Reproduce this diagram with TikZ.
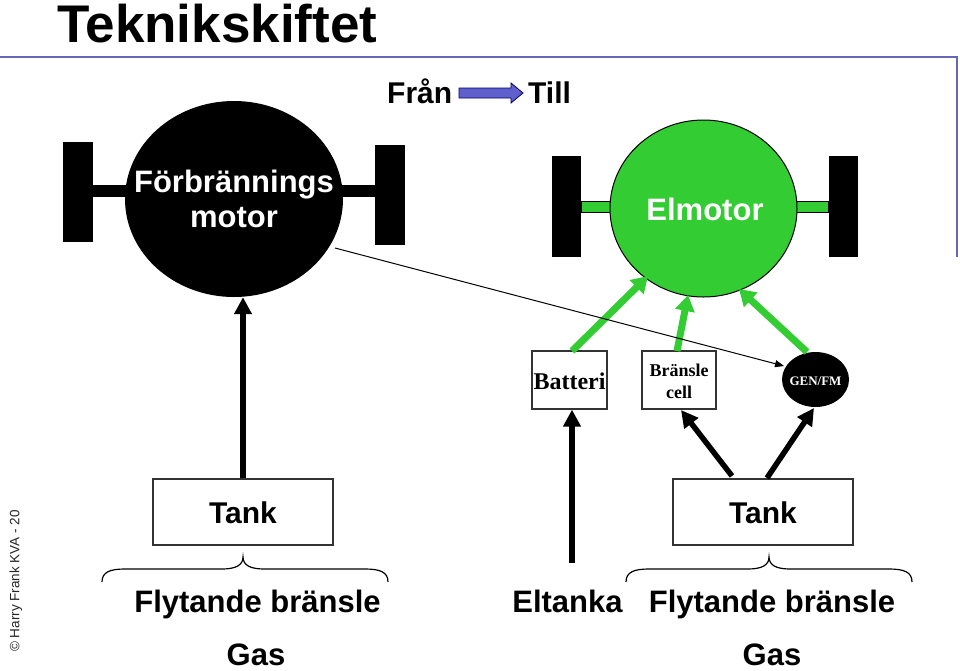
\documentclass[tikz,border=0pt]{standalone}
\usepackage{fontspec}
\setmainfont{Liberation Sans}
\newfontfamily\timesf{Liberation Serif}
\usetikzlibrary{arrows.meta,shapes.geometric}
\definecolor{mgreen}{RGB}{51,204,51}
\definecolor{frameblue}{RGB}{102,102,180}
\definecolor{arrblue}{RGB}{96,96,205}
\tikzset{
  lbl/.style={anchor=base,inner sep=0pt,font=\bfseries\fontsize{31}{36}\selectfont},
  wheel/.style={rectangle,fill=black,inner sep=0pt,minimum width=30,minimum height=100},
  boxnode/.style={rectangle,draw=black!80,line width=1.3,fill=white,inner sep=0pt},
  greenarr/.style={draw=mgreen,line width=7,-{Triangle[length=16pt,width=19pt]}},
  blackarr/.style={draw=black,line width=5.5,-{Triangle[length=17pt,width=17pt]}},
  bracestyle/.style={draw=black,line width=1.2}
}
\begin{document}
\begin{tikzpicture}[x=1pt,y=-1pt]
\useasboundingbox (0,0) rectangle (960,670);
\fill[white] (0,0) rectangle (960,670);
% frame line
\draw[frameblue,line width=2] (0,57) -- (957,57) -- (957,257);
% title
\node[anchor=base west,inner sep=0pt,font=\bfseries\fontsize{53}{60}\selectfont] (title) at (57,42) {Teknikskiftet};
% Från -> Till
\node[anchor=base west,inner sep=0pt,font=\bfseries\fontsize{30}{36}\selectfont] (fran) at (387,103) {Från};
\node[anchor=base west,inner sep=0pt,font=\bfseries\fontsize{30}{36}\selectfont] (till) at (528,103) {Till};
\filldraw[fill=arrblue,draw=black!60!blue,line width=0.8] (459,88) -- (511,88) -- (511,83) -- (523,93) -- (511,103) -- (511,98) -- (459,98) -- cycle;
% left motor
\fill[black] (93,185) rectangle (375,197);
\node[ellipse,fill=black,minimum width=218,minimum height=196,inner sep=0] (motorL) at (234,199) {};
\node[wheel] (wl1) at (78,192) {};
\node[wheel] (wl2) at (390,195) {};
\node[lbl,text=white] (t1) at (234,192) {Förbrännings};
\node[lbl,text=white] (t2) at (234,227) {motor};
% right motor
\filldraw[fill=mgreen,draw=black,line width=0.5] (581,201) rectangle (828,212);
\node[ellipse,fill=mgreen,draw=black,line width=1,minimum width=187,minimum height=177,inner sep=0] (motorR) at (703.5,208.5) {};
\node[wheel,minimum width=29,minimum height=101] (wr1) at (566.5,206.5) {};
\node[wheel,minimum width=29,minimum height=101] (wr2) at (843,206.5) {};
\node[lbl,text=white] (t3) at (705,220) {Elmotor};
% middle boxes
\node[boxnode,minimum width=75,minimum height=58] (batt) at (569.5,380) {};
\node[anchor=base,inner sep=0pt,font=\timesf\bfseries\fontsize{24}{28}\selectfont] (battt) at (569.5,389) {Batteri};
\node[boxnode,minimum width=74,minimum height=58] (fc) at (679,380) {};
\node[anchor=base,inner sep=0pt,font=\timesf\bfseries\fontsize{18}{22}\selectfont] (fct1) at (679,376) {Bränsle};
\node[anchor=base,inner sep=0pt,font=\timesf\bfseries\fontsize{18}{22}\selectfont] (fct2) at (679,398) {cell};
\node[ellipse,fill=black,minimum width=67,minimum height=55,inner sep=0] (gen) at (815.5,379.5) {};
\node[anchor=base,inner sep=0pt,text=white,font=\timesf\bfseries\fontsize{13}{15}\selectfont] (gent) at (815.5,385) {GEN/FM};
% tanks
\node[boxnode,minimum width=180,minimum height=66] (tankL) at (243,512) {};
\node[lbl,font=\bfseries\fontsize{30}{36}\selectfont] (tankLt) at (243,523) {Tank};
\node[boxnode,minimum width=180,minimum height=66] (tankR) at (763,512) {};
\node[lbl,font=\bfseries\fontsize{30}{36}\selectfont] (tankRt) at (763,523) {Tank};
% coordinates for connector ends
\coordinate (gA1) at (572,351);  \coordinate (gA2) at (648,276);
\coordinate (gB1) at (677,351);  \coordinate (gB2) at (688,295);
\coordinate (gC1) at (807,352);  \coordinate (gC2) at (739,289);
\coordinate (thin1) at (335,248); \coordinate (thin2) at (784,366);
\coordinate (elt) at (572,563);
\coordinate (tr1) at (732,476);  \coordinate (tr2) at (681,410);
\coordinate (tr3) at (767,478);  \coordinate (tr4) at (814,408);
% green arrows
\draw[greenarr] (gA1) -- (gA2);
\draw[greenarr] (gB1) -- (gB2);
\draw[greenarr] (gC1) -- (gC2);
% thin line
\draw[line width=1,-{Triangle[length=9pt,width=7pt]}] (thin1) -- (thin2);
% black arrows
\draw[blackarr] (tankL.north) -- (tankL.north |- motorL.south);
\draw[blackarr] (elt) -- (elt |- batt.south);
\draw[blackarr] (tr1) -- (tr2);
\draw[blackarr] (tr3) -- (tr4);
% braces
\draw[bracestyle] (102,582) .. controls (102,572) and (110,569) .. (125,569) -- (222,569) .. controls (236,569) and (243,565) .. (243,557) .. controls (243,565) and (250,569) .. (264,569) -- (365,569) .. controls (380,569) and (388,572) .. (388,582);
\draw[bracestyle] (626,582) .. controls (626,572) and (634,569) .. (649,569) -- (748,569) .. controls (762,569) and (769,565) .. (769,557) .. controls (769,565) and (776,569) .. (790,569) -- (889,569) .. controls (904,569) and (912,572) .. (912,582);
% bottom labels
\node[lbl] (fl1) at (257.5,612) {Flytande bränsle};
\node[lbl] (el) at (567.5,612) {Eltanka};
\node[lbl] (fl2) at (772,612) {Flytande bränsle};
\node[lbl] (gas1) at (256,665) {Gas};
\node[lbl] (gas2) at (772,665) {Gas};
% copyright
\node[rotate=90,inner sep=0pt,text=black!85,font=\fontsize{13.5}{16}\selectfont] (copy) at (16,581) {© Harry Frank KVA - 20};
\end{tikzpicture}
\end{document}
